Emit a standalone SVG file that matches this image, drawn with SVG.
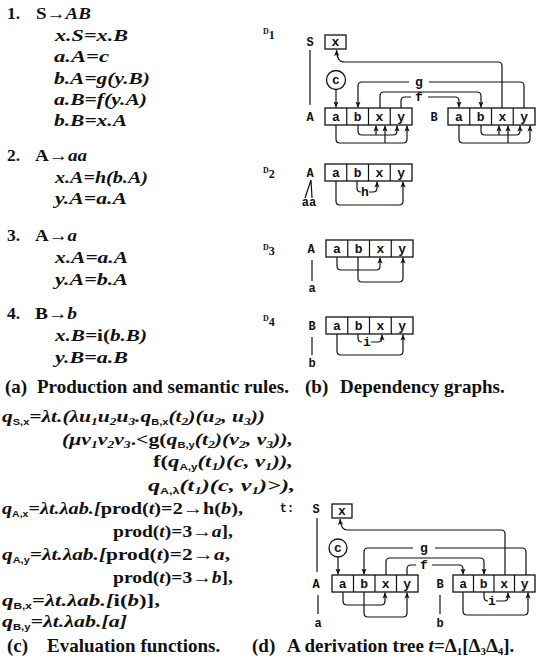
<svg xmlns="http://www.w3.org/2000/svg" width="536" height="660" viewBox="0 0 536 660">
<defs>
<style>
.eq{font-family:"Liberation Serif",serif;font-size:17.5px;font-weight:bold;font-style:italic;fill:#111}
.rm{font-style:normal}
.sq{font-family:"Liberation Sans",sans-serif;font-size:9px;font-style:normal;font-weight:bold}
.sn{font-size:11px}
.cap{font-family:"Liberation Serif",serif;font-size:19px;font-weight:bold;fill:#111}
.tw{font-family:"Liberation Mono",monospace;font-size:13px;font-weight:bold;fill:#111;text-anchor:middle}
.lb{font-family:"Liberation Mono",monospace;font-size:12px;font-weight:bold;fill:#111;text-anchor:middle}
.dl{font-family:"Liberation Serif",serif;font-weight:bold;fill:#111}
.box{fill:#fff;stroke:#111;stroke-width:1.3}
.ln{fill:none;stroke:#111;stroke-width:1.2}
.ar{marker-end:url(#ah)}
</style>
<marker id="ah" viewBox="0 0 8 8" refX="8" refY="4" markerWidth="6" markerHeight="6" markerUnits="userSpaceOnUse" orient="auto"><path d="M0,0.5 L8,4 L0,7.5 L2,4 z" fill="#111"/></marker>
</defs>
<rect width="536" height="660" fill="#fff"/>

<!-- (a) rules -->
<g id="rules">
<text class="eq rm" x="7" y="19">1.</text>
<text class="eq" x="36" y="19" textLength="55" lengthAdjust="spacingAndGlyphs"><tspan class="rm">S→</tspan>AB</text>
<text class="eq" x="55" y="41" textLength="73" lengthAdjust="spacingAndGlyphs">x.S=x.B</text>
<text class="eq" x="54" y="62" textLength="55" lengthAdjust="spacingAndGlyphs">a.A=c</text>
<text class="eq" x="54" y="84" textLength="96" lengthAdjust="spacingAndGlyphs">b.A=g(y.B)</text>
<text class="eq" x="54" y="105" textLength="93" lengthAdjust="spacingAndGlyphs">a.B=f(y.A)</text>
<text class="eq" x="54" y="126" textLength="73" lengthAdjust="spacingAndGlyphs">b.B=x.A</text>

<text class="eq rm" x="7" y="161">2.</text>
<text class="eq" x="35" y="161" textLength="52" lengthAdjust="spacingAndGlyphs"><tspan class="rm">A→</tspan>aa</text>
<text class="eq" x="55" y="183" textLength="93" lengthAdjust="spacingAndGlyphs">x.A=h(b.A)</text>
<text class="eq" x="55" y="204" textLength="72" lengthAdjust="spacingAndGlyphs">y.A=a.A</text>

<text class="eq rm" x="7" y="241">3.</text>
<text class="eq" x="35" y="241" textLength="42" lengthAdjust="spacingAndGlyphs"><tspan class="rm">A→</tspan>a</text>
<text class="eq" x="55" y="263" textLength="73" lengthAdjust="spacingAndGlyphs">x.A=a.A</text>
<text class="eq" x="55" y="285" textLength="73" lengthAdjust="spacingAndGlyphs">y.A=b.A</text>

<text class="eq rm" x="7" y="319">4.</text>
<text class="eq" x="35" y="319" textLength="42" lengthAdjust="spacingAndGlyphs"><tspan class="rm">B→</tspan>b</text>
<text class="eq" x="55" y="341" textLength="92" lengthAdjust="spacingAndGlyphs">x.B=<tspan class="rm">i(</tspan>b.B)</text>
<text class="eq" x="55" y="363" textLength="73" lengthAdjust="spacingAndGlyphs">y.B=a.B</text>
</g>

<g id="captions">
<text class="cap" y="393"><tspan x="5">(a)</tspan><tspan x="37">Production and semantic rules.</tspan></text>
<text class="cap" y="393"><tspan x="305">(b)</tspan><tspan x="340">Dependency graphs.</tspan></text>
<text class="cap" y="652"><tspan x="7">(c)</tspan><tspan x="47">Evaluation functions.</tspan></text>
<text class="cap" y="652"><tspan x="252">(d)</tspan><tspan x="287">A derivation tree </tspan><tspan font-style="italic">t</tspan>=Δ<tspan class="sn" dy="3">1</tspan><tspan dy="-3">[Δ</tspan><tspan class="sn" dy="3">3</tspan><tspan dy="-3">Δ</tspan><tspan class="sn" dy="3">4</tspan><tspan dy="-3">].</tspan></text>
</g>

<!-- (c) evaluation functions -->
<g id="functions">
<text class="eq" x="2" y="422" textLength="263" lengthAdjust="spacingAndGlyphs">q<tspan class="sq" dy="3">S,x</tspan><tspan dy="-3">=λt.(λu</tspan><tspan class="sn" dy="3">1</tspan><tspan dy="-3">u</tspan><tspan class="sn" dy="3">2</tspan><tspan dy="-3">u</tspan><tspan class="sn" dy="3">3</tspan><tspan dy="-3">.q</tspan><tspan class="sq" dy="3">B,x</tspan><tspan dy="-3">(t</tspan><tspan class="sn" dy="3">2</tspan><tspan dy="-3">)(u</tspan><tspan class="sn" dy="3">2</tspan><tspan dy="-3">, u</tspan><tspan class="sn" dy="3">3</tspan><tspan dy="-3">))</tspan></text>
<text class="eq" x="62" y="445" textLength="231" lengthAdjust="spacingAndGlyphs">(μv<tspan class="sn" dy="3">1</tspan><tspan dy="-3">v</tspan><tspan class="sn" dy="3">2</tspan><tspan dy="-3">v</tspan><tspan class="sn" dy="3">3</tspan><tspan dy="-3" class="rm">.&lt;g(</tspan>q<tspan class="sq" dy="3">B,y</tspan><tspan dy="-3">(t</tspan><tspan class="sn" dy="3">2</tspan><tspan dy="-3">)(v</tspan><tspan class="sn" dy="3">2</tspan><tspan dy="-3">, v</tspan><tspan class="sn" dy="3">3</tspan><tspan dy="-3">)),</tspan></text>
<text class="eq" x="153" y="467" textLength="140" lengthAdjust="spacingAndGlyphs"><tspan class="rm">f(</tspan>q<tspan class="sq" dy="3">A,y</tspan><tspan dy="-3">(t</tspan><tspan class="sn" dy="3">1</tspan><tspan dy="-3">)(c, v</tspan><tspan class="sn" dy="3">1</tspan><tspan dy="-3">)),</tspan></text>
<text class="eq" x="148" y="491" textLength="147" lengthAdjust="spacingAndGlyphs">q<tspan class="sq" dy="3">A,λ</tspan><tspan dy="-3">(t</tspan><tspan class="sn" dy="3">1</tspan><tspan dy="-3">)(c, v</tspan><tspan class="sn" dy="3">1</tspan><tspan dy="-3">)&gt;),</tspan></text>
<text class="eq" x="2" y="514" textLength="241" lengthAdjust="spacingAndGlyphs">q<tspan class="sq" dy="3">A,x</tspan><tspan dy="-3">=λt.λab.[</tspan><tspan class="rm">prod(</tspan>t<tspan class="rm">)=2→h(</tspan>b<tspan class="rm">),</tspan></text>
<text class="eq" x="113" y="537" textLength="120" lengthAdjust="spacingAndGlyphs"><tspan class="rm">prod(</tspan>t<tspan class="rm">)=3→</tspan>a<tspan class="rm">],</tspan></text>
<text class="eq" x="2" y="560" textLength="228" lengthAdjust="spacingAndGlyphs">q<tspan class="sq" dy="3">A,y</tspan><tspan dy="-3">=λt.λab.[</tspan><tspan class="rm">prod(</tspan>t<tspan class="rm">)=2→</tspan>a<tspan class="rm">,</tspan></text>
<text class="eq" x="113" y="583" textLength="120" lengthAdjust="spacingAndGlyphs"><tspan class="rm">prod(</tspan>t<tspan class="rm">)=3→</tspan>b<tspan class="rm">],</tspan></text>
<text class="eq" x="2" y="606" textLength="158" lengthAdjust="spacingAndGlyphs">q<tspan class="sq" dy="3">B,x</tspan><tspan dy="-3">=λt.λab.[</tspan><tspan class="rm">i(</tspan>b<tspan class="rm">)],</tspan></text>
<text class="eq" x="2" y="627" textLength="125" lengthAdjust="spacingAndGlyphs">q<tspan class="sq" dy="3">B,y</tspan><tspan dy="-3">=λt.λab.[a]</tspan></text>
</g>

<!-- D labels -->
<g id="dlabels">
<text class="dl" x="263" y="34" font-size="8">D<tspan font-size="12" dy="5">1</tspan></text>
<text class="dl" x="263" y="173" font-size="8">D<tspan font-size="12" dy="5">2</tspan></text>
<text class="dl" x="263" y="250" font-size="8">D<tspan font-size="12" dy="5">3</tspan></text>
<text class="dl" x="263" y="321" font-size="8">D<tspan font-size="12" dy="5">4</tspan></text>
</g>

<!-- D1 nodes -->
<g id="d1-S">
<text class="lb" x="310" y="46">S</text>
<rect class="box" x="325" y="35" width="21" height="14"/><text class="tw" x="335.5" y="46">x</text>
</g>
<g id="d1-c"><circle class="box" cx="336" cy="80" r="9.5"/><text class="tw" x="336" y="84">c</text></g>
<g id="d1-A">
<text class="lb" x="310" y="121">A</text>
<rect class="box" x="325" y="108" width="87" height="17"/>
<path class="ln" d="M346.75 108V125M368.5 108V125M390.25 108V125"/>
<text class="tw" x="336" y="121">a</text><text class="tw" x="357.6" y="121">b</text><text class="tw" x="379.4" y="121">x</text><text class="tw" x="401.1" y="121">y</text>
</g>
<g id="d1-B">
<text class="lb" x="434" y="121">B</text>
<rect class="box" x="448" y="108" width="87" height="17"/>
<path class="ln" d="M469.75 108V125M491.5 108V125M513.25 108V125"/>
<text class="tw" x="459" y="121">a</text><text class="tw" x="480.6" y="121">b</text><text class="tw" x="502.4" y="121">x</text><text class="tw" x="524.1" y="121">y</text>
</g>

<!-- D2 -->
<g id="d2-A">
<text class="lb" x="310" y="177">A</text>
<rect class="box" x="325" y="164" width="87" height="17"/>
<path class="ln" d="M346.75 164V181M368.5 164V181M390.25 164V181"/>
<text class="tw" x="336" y="177">a</text><text class="tw" x="357.6" y="177">b</text><text class="tw" x="379.4" y="177">x</text><text class="tw" x="401.1" y="177">y</text>
</g>
<g id="d2-aa"><text class="lb" x="309" y="206" font-size="10">aa</text></g>

<!-- D3 -->
<g id="d3-A">
<text class="lb" x="311" y="253">A</text>
<rect class="box" x="326" y="240" width="87" height="17"/>
<path class="ln" d="M347.75 240V257M369.5 240V257M391.25 240V257"/>
<text class="tw" x="337" y="253">a</text><text class="tw" x="358.6" y="253">b</text><text class="tw" x="380.4" y="253">x</text><text class="tw" x="402.1" y="253">y</text>
</g>
<g id="d3-a"><text class="lb" x="312" y="292">a</text></g>

<!-- D4 -->
<g id="d4-B">
<text class="lb" x="312" y="330">B</text>
<rect class="box" x="326" y="317" width="87" height="17"/>
<path class="ln" d="M347.75 317V334M369.5 317V334M391.25 317V334"/>
<text class="tw" x="337" y="330">a</text><text class="tw" x="358.6" y="330">b</text><text class="tw" x="380.4" y="330">x</text><text class="tw" x="402.1" y="330">y</text>
</g>
<g id="d4-b"><text class="lb" x="312" y="367">b</text></g>

<!-- (d) tree t -->
<g id="t-label"><text class="lb" x="287" y="512">t:</text></g>
<g id="t-S">
<text class="lb" x="316" y="513">S</text>
<rect class="box" x="332" y="504" width="20" height="14"/><text class="tw" x="342" y="515">x</text>
</g>
<g id="t-c"><circle class="box" cx="338" cy="548" r="9"/><text class="tw" x="338" y="552">c</text></g>
<g id="t-A">
<text class="lb" x="316" y="588">A</text>
<rect class="box" x="332" y="575" width="86" height="17"/>
<path class="ln" d="M353.5 575V592M375 575V592M396.5 575V592"/>
<text class="tw" x="342.75" y="588">a</text><text class="tw" x="364.25" y="588">b</text><text class="tw" x="385.75" y="588">x</text><text class="tw" x="407.25" y="588">y</text>
</g>
<g id="t-B">
<text class="lb" x="440" y="588">B</text>
<rect class="box" x="453" y="575" width="82" height="17"/>
<path class="ln" d="M473.5 575V592M494 575V592M514.5 575V592"/>
<text class="tw" x="463.25" y="588">a</text><text class="tw" x="483.75" y="588">b</text><text class="tw" x="504.25" y="588">x</text><text class="tw" x="524.75" y="588">y</text>
</g>
<g id="t-a"><text class="lb" x="318" y="627">a</text></g>
<g id="t-b"><text class="lb" x="440" y="627">b</text></g>

<!-- connectors -->
<g id="connectors">
<!-- D1 -->
<path class="ln" d="M310 50V105"/>
<path class="ln ar" d="M336 89.5V107.5"/>
<path class="ln ar" d="M502 108V66Q502 62 498 62H344Q337 62 336.5 50"/>
<path class="ln" d="M524 108V86Q524 82 520 82H429"/>
<path class="ln ar" d="M409 82H362Q358 82 358 86V107.5"/>
<path class="ln ar" d="M380 108V96Q380 92 384 92H477Q481 92 481 96V107.5"/>
<path class="ln" d="M401 108V101Q401 97 405 97H411"/>
<path class="ln ar" d="M428 97H455Q459 97 459 101V107.5"/>
<text class="tw" x="419" y="86">g</text>
<text class="tw" x="419" y="101">f</text>
<path class="ln ar" d="M358 125V131Q358 135 362 135H393Q397 135 397 131V125.5"/>
<path class="ln ar" d="M376 135V125.5"/>
<path class="ln ar" d="M336 125V139Q336 143 340 143H403Q407 143 407 139V125.5"/>
<path class="ln ar" d="M385 143V125.5"/>
<path class="ln ar" d="M481 125V131Q481 135 485 135H516Q520 135 520 131V125.5"/>
<path class="ln ar" d="M499 135V125.5"/>
<path class="ln ar" d="M459 125V139Q459 143 463 143H526Q530 143 530 139V125.5"/>
<path class="ln ar" d="M508 143V125.5"/>
<!-- D2 -->
<path class="ln" d="M311 180L305 198M311 180L312 198"/>
<path class="ln" d="M357 181V188Q357 192 361 192"/>
<text class="tw" x="365" y="196">h</text>
<path class="ln ar" d="M369 192H373Q377 192 377 188V181.5"/>
<path class="ln ar" d="M336 181V201Q336 205 340 205H399Q403 205 403 201V181.5"/>
<!-- D3 -->
<path class="ln" d="M312 260V281"/>
<path class="ln ar" d="M337 257V266Q337 270 341 270H376Q380 270 380 266V257.5"/>
<path class="ln ar" d="M358 257V278Q358 282 362 282H399Q403 282 403 278V257.5"/>
<!-- D4 -->
<path class="ln" d="M312 337V355"/>
<path class="ln" d="M358 334V338Q358 342 362 342"/>
<text class="tw" x="367" y="346">i</text>
<path class="ln ar" d="M371 342H378Q382 342 382 338V334.5"/>
<path class="ln ar" d="M337 334V351Q337 355 341 355H399Q403 355 403 351V334.5"/>
<!-- t -->
<path class="ln" d="M317 518V572"/>
<path class="ln ar" d="M338 557V574.5"/>
<path class="ln ar" d="M505 575V534Q505 530 501 530H347Q341 530 340 519"/>
<path class="ln" d="M526 575V552Q526 548 522 548H435"/>
<path class="ln ar" d="M413 548H368Q364 548 364 552V574.5"/>
<text class="tw" x="424" y="552">g</text>
<path class="ln ar" d="M386 575V562Q386 558 390 558H480Q484 558 484 562V574.5"/>
<path class="ln" d="M407 575V569Q407 565 411 565H416"/>
<text class="tw" x="424" y="569">f</text>
<path class="ln ar" d="M432 565H459Q463 565 463 569V574.5"/>
<path class="ln ar" d="M343 592V601Q343 605 347 605H381Q385 605 385 601V592.5"/>
<path class="ln ar" d="M364 592V613Q364 617 368 617H403Q407 617 407 613V592.5"/>
<path class="ln" d="M318 595V614"/>
<path class="ln" d="M484 592V597Q484 601 488 601"/>
<text class="tw" x="492" y="605">i</text>
<path class="ln ar" d="M496 601H504Q508 601 508 597V592.5"/>
<path class="ln ar" d="M463 592V611Q463 615 467 615H524Q528 615 528 611V592.5"/>
<path class="ln" d="M440 595V614"/>
</g>
</svg>
